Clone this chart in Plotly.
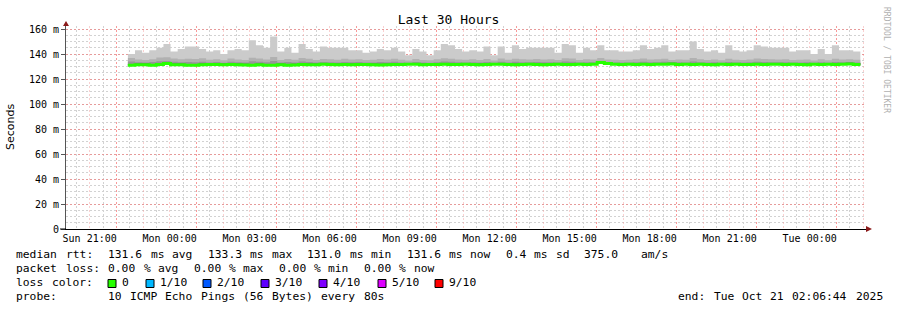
import re
import pandas as pd
import plotly.graph_objects as go

# ---------------- data ----------------
end_time = "2025-10-21 02:06:44"
span_hours = 30
data_start = "2025-10-19 22:26:00"
step_seconds = 960

ping_max = [
    140, 143, 141, 143, 145, 148, 142, 144, 146, 146,
    144, 142, 143, 140, 143, 144, 143, 151, 147, 145,
    154, 142, 145, 141, 148, 144, 142, 146, 145, 145,
    145, 143, 143, 141, 142, 144, 143, 145, 142, 139,
    144, 142, 139, 143, 148, 147, 144, 142, 143, 142,
    146, 139, 146, 141, 147, 144, 145, 145, 145, 145,
    141, 148, 147, 141, 145, 143, 147, 143, 143, 142,
    142, 143, 147, 144, 145, 147, 142, 143, 143, 150,
    144, 142, 143, 141, 147, 143, 142, 143, 147, 146,
    145, 145, 145, 142, 143, 143, 140, 144, 140, 147,
    143, 143, 142]

ping_p9 = [
    136.8, 135.6, 135.2, 135.8, 137.2, 137.4, 136.4, 135.8, 136.2, 136.0,
    136.6, 135.4, 135.8, 135.0, 136.4, 135.6, 135.2, 137.0, 136.4, 135.6,
    137.6, 135.2, 136.0, 135.4, 136.8, 136.2, 135.2, 136.0, 135.8, 135.4,
    136.2, 135.6, 135.8, 135.2, 135.4, 136.0, 135.6, 136.2, 135.4, 134.8,
    136.0, 135.2, 135.0, 135.8, 136.6, 136.2, 135.6, 135.4, 135.8, 135.2,
    136.0, 134.8, 136.4, 135.4, 136.2, 135.8, 135.6, 136.0, 135.6, 135.8,
    135.2, 136.6, 136.4, 135.2, 135.8, 135.6, 136.8, 135.6, 135.4, 135.2,
    135.4, 135.8, 136.4, 135.6, 135.8, 136.2, 135.2, 135.6, 135.4, 136.8,
    135.8, 135.2, 135.6, 135.0, 136.2, 135.4, 135.2, 135.6, 136.4, 136.0,
    135.8, 135.6, 135.8, 135.2, 135.4, 135.6, 134.8, 135.8, 135.0, 136.2,
    135.6, 135.8, 135.4]

ping_p8 = [
    134.0, 133.4, 133.2, 133.6, 134.2, 134.4, 133.8, 133.4, 133.6, 133.4,
    133.8, 133.2, 133.6, 133.0, 133.8, 133.4, 133.2, 134.2, 133.8, 133.4,
    134.4, 133.2, 133.6, 133.2, 134.0, 133.6, 133.2, 133.6, 133.4, 133.2,
    133.6, 133.4, 133.6, 133.2, 133.2, 133.6, 133.4, 133.8, 133.2, 133.0,
    133.6, 133.2, 133.0, 133.4, 134.0, 133.8, 133.4, 133.2, 133.4, 133.2,
    133.6, 133.0, 133.8, 133.2, 133.8, 133.4, 133.4, 133.6, 133.4, 133.4,
    133.2, 134.0, 133.8, 133.2, 133.4, 133.4, 134.4, 133.6, 133.2, 133.2,
    133.2, 133.4, 133.8, 133.4, 133.4, 133.8, 133.4, 133.4, 133.2, 134.0,
    133.4, 133.2, 133.4, 133.0, 133.6, 133.2, 133.2, 133.4, 133.8, 133.6,
    133.4, 133.4, 133.4, 133.2, 133.2, 133.4, 133.0, 133.4, 133.0, 133.6,
    133.4, 133.6, 133.2]

ping_p7 = [
    132.0, 132.4, 132.4, 132.0, 132.6, 133.4, 132.4, 132.4, 132.0, 132.0,
    132.4, 132.6, 132.6, 132.4, 132.6, 132.4, 132.2, 132.0, 132.4, 132.0,
    132.0, 132.4, 132.0, 132.2, 132.6, 132.4, 132.4, 132.8, 132.6, 132.4,
    132.6, 132.4, 132.6, 132.6, 132.4, 132.2, 132.4, 132.6, 132.6, 132.8,
    132.8, 132.4, 132.6, 132.6, 132.8, 132.6, 132.6, 132.8, 132.6, 132.4,
    132.6, 132.8, 132.8, 132.6, 132.4, 132.6, 132.8, 132.6, 132.4, 132.6,
    132.8, 132.6, 132.6, 132.8, 132.6, 132.8, 134.2, 133.4, 132.8, 132.6,
    132.8, 132.6, 132.8, 132.6, 132.8, 132.8, 133.0, 132.6, 132.8, 132.6,
    132.8, 132.6, 132.4, 132.8, 132.6, 132.8, 132.6, 132.6, 132.8, 132.6,
    132.8, 132.8, 132.6, 132.8, 132.6, 132.4, 132.8, 132.6, 132.8, 132.6,
    132.8, 133.0, 132.6]

ping_lo = [
    130.6, 130.9, 130.9, 130.6, 131.0, 131.6, 130.9, 130.9, 130.6, 130.6,
    130.9, 131.0, 131.0, 130.9, 131.0, 130.9, 130.7, 130.6, 130.9, 130.6,
    130.6, 130.9, 130.6, 130.7, 131.0, 130.9, 130.9, 131.2, 131.0, 130.9,
    131.0, 130.9, 131.0, 131.0, 130.9, 130.7, 130.9, 131.0, 131.0, 131.2,
    131.2, 130.9, 131.0, 131.0, 131.2, 131.0, 131.0, 131.2, 131.0, 130.9,
    131.0, 131.2, 131.2, 131.0, 130.9, 131.0, 131.2, 131.0, 130.9, 131.0,
    131.2, 131.0, 131.0, 131.2, 131.0, 131.2, 132.4, 131.7, 131.2, 131.0,
    131.2, 131.0, 131.2, 131.0, 131.2, 131.2, 131.4, 131.0, 131.2, 131.0,
    131.2, 131.0, 130.9, 131.2, 131.0, 131.2, 131.0, 131.0, 131.2, 131.0,
    131.2, 131.2, 131.0, 131.2, 131.0, 130.9, 131.2, 131.0, 131.2, 131.0,
    131.2, 131.4, 131.0]

median_rtt = [
    131.0, 131.4, 131.4, 131.0, 131.6, 132.4, 131.4, 131.4, 131.0, 131.0,
    131.4, 131.6, 131.6, 131.4, 131.6, 131.4, 131.2, 131.0, 131.4, 131.0,
    131.0, 131.4, 131.0, 131.2, 131.6, 131.4, 131.4, 131.8, 131.6, 131.4,
    131.6, 131.4, 131.6, 131.6, 131.4, 131.2, 131.4, 131.6, 131.6, 131.8,
    131.8, 131.4, 131.6, 131.6, 131.8, 131.6, 131.6, 131.8, 131.6, 131.4,
    131.6, 131.8, 131.8, 131.6, 131.4, 131.6, 131.8, 131.6, 131.4, 131.6,
    131.8, 131.6, 131.6, 131.8, 131.6, 131.8, 133.3, 132.4, 131.8, 131.6,
    131.8, 131.6, 131.8, 131.6, 131.8, 131.8, 132.0, 131.6, 131.8, 131.6,
    131.8, 131.6, 131.4, 131.8, 131.6, 131.8, 131.6, 131.6, 131.8, 131.6,
    131.8, 131.8, 131.6, 131.8, 131.6, 131.4, 131.8, 131.6, 131.8, 131.6,
    131.8, 132.0, 131.6]

y_tick_values = [0, 20, 40, 60, 80, 100, 120, 140, 160]
y_tick_labels = ["0", "20 m", "40 m", "60 m", "80 m", "100 m", "120 m", "140 m", "160 m"]

loss_labels = ["0", "1/10", "2/10", "3/10", "4/10", "5/10", "9/10"]
loss_colors = ["#26ff00", "#00b8ff", "#0059ff", "#5e00ff", "#7e00ff", "#dd00ff", "#ff0000"]

title_text = "Last 30 Hours"
y_title = "Seconds"
stats_line = "median rtt:  131.6 ms avg  133.3 ms max  131.0 ms min  131.6 ms now  0.4 ms sd  375.0   am/s"
loss_line = "packet loss: 0.00 % avg  0.00 % max  0.00 % min  0.00 % now"
color_head = "loss color:"
probe_line = "probe:       10 ICMP Echo Pings (56 Bytes) every 80s"
end_line = "end: Tue Oct 21 02:06:44 2025"
watermark = "RRDTOOL / TOBI OETIKER"

# ---------------- layout constants ----------------
W, H = 897, 310
ML, MR, MT, MB = 66, 31, 26, 81
PW, PH = W - ML - MR, H - MT - MB
PLOT_BOTTOM = H - MB
MONO = "DejaVu Sans Mono"
SANS = "DejaVu Sans"
CHAR_W = 7.1
LEG_SIZE = 11.3

MAJOR_GRID = "rgba(245,110,110,0.55)"
HOUR_GRID = "rgba(245,150,150,0.45)"
MINOR_GRID = "#d2d2d2"
DASH = "2px,2px"


def px(x):
    return (x - ML) / PW


def py(y):
    return (PLOT_BOTTOM - y) / PH


t_end = pd.Timestamp(end_time)
t_start = t_end - pd.Timedelta(hours=span_hours)
n = len(median_rtt)
times = pd.date_range(data_start, periods=n + 1, freq=f"{step_seconds}s")


def ext(a):
    return list(a) + [a[-1]]


fig = go.Figure()

# invisible trace to activate the overlay axis carrying the 3-hourly grid
fig.add_trace(go.Scatter(x=[t_start], y=[None], xaxis="x2", mode="lines",
                         hoverinfo="skip", showlegend=False))

bands = [(ping_lo, ping_max, "#cbcbcb"),
         (ping_lo, ping_p9, "#b1b1b1"),
         (ping_lo, ping_p8, "#969696"),
         (ping_lo, ping_p7, "#5a5a5a")]
for lo, hi, col in bands:
    fig.add_trace(go.Scatter(x=times, y=ext(lo), mode="lines", line=dict(width=0, shape="hv"),
                             hoverinfo="skip", showlegend=False))
    fig.add_trace(go.Scatter(x=times, y=ext(hi), mode="lines", line=dict(width=0, shape="hv"),
                             fill="tonexty", fillcolor=col, hoverinfo="skip", showlegend=False))

fig.add_trace(go.Scatter(x=times, y=ext(median_rtt), mode="lines",
                         line=dict(width=3, shape="hv", color=loss_colors[0]),
                         hoverinfo="skip", showlegend=False))

fig.update_layout(
    width=W, height=H, margin=dict(l=ML, r=MR, t=MT, b=MB, pad=0, autoexpand=False),
    paper_bgcolor="white", plot_bgcolor="white",
    title=dict(text=title_text, x=0.5, xanchor="center", y=1 - 19 / H, yanchor="middle",
               font=dict(family=MONO, size=13, color="#000")),
    xaxis=dict(type="date", range=[t_start, t_end], tick0="2025-10-19 21:00:00",
               dtick=3600000, ticklabelstep=3, tickformat="%a %H:%M", automargin=False,
               tickfont=dict(family=MONO, size=10, color="#000"),
               showgrid=True, gridcolor=HOUR_GRID, griddash=DASH, gridwidth=1,
               minor=dict(dtick=1800000, showgrid=True, gridcolor=MINOR_GRID,
                          griddash=DASH, gridwidth=1),
               showline=True, linecolor="#000", linewidth=1, ticks="", zeroline=False),
    xaxis2=dict(type="date", range=[t_start, t_end], overlaying="x", side="bottom",
                tick0="2025-10-19 22:00:00", dtick=3 * 3600000, automargin=False,
                showgrid=True, gridcolor=MAJOR_GRID, griddash=DASH, gridwidth=1,
                showticklabels=False, showline=False, ticks="", zeroline=False),
    yaxis=dict(range=[0, 162.5], tickvals=y_tick_values, ticktext=y_tick_labels,
               automargin=False,
               tickfont=dict(family=MONO, size=10, color="#000"),
               showgrid=True, gridcolor=MAJOR_GRID, griddash=DASH, gridwidth=1,
               minor=dict(dtick=5, tick0=0, showgrid=True, gridcolor=MINOR_GRID,
                          griddash=DASH, gridwidth=1),
               showline=True, linecolor="#555", linewidth=1,
               ticks="outside", ticklen=4, tickcolor="#555", zeroline=False),
)

# y-axis title
fig.add_annotation(text=y_title, xref="paper", yref="paper", x=px(11), y=py(127),
                   xanchor="center", yanchor="middle", textangle=-90, showarrow=False,
                   font=dict(family=SANS, size=11, color="#000"))

# axis arrows
fig.add_shape(type="path", xref="paper", yref="paper", xsizemode="pixel", ysizemode="pixel",
              xanchor=0, yanchor=1, path="M -3 0 L 3 0 L 0 5 Z",
              fillcolor="#8b1a1a", line=dict(width=0))
fig.add_shape(type="path", xref="paper", yref="paper", xsizemode="pixel", ysizemode="pixel",
              xanchor=1, yanchor=0, path="M 0 -3 L 0 3 L 6 0 Z",
              fillcolor="#8b1a1a", line=dict(width=0))
fig.add_shape(type="line", xref="paper", yref="paper", x0=px(60), x1=0, y0=0, y1=0,
              line=dict(color="#000", width=1))


def add_text(s, x, yc, size=LEG_SIZE):
    fig.add_annotation(text=s, xref="paper", yref="paper", x=px(x), y=py(yc),
                       xanchor="left", yanchor="middle", showarrow=False,
                       borderpad=0, borderwidth=0,
                       font=dict(family=MONO, size=size, color="#000"))


def add_words(text, x0, yc):
    for m in re.finditer(r"\S+", text):
        add_text(m.group(0), x0 + m.start() * CHAR_W, yc)


add_words(stats_line, 16, 254)
add_words(loss_line, 16, 268)
add_words(color_head, 16, 282)
add_words(probe_line, 16, 296)
add_words(end_line, 678, 296)

box_x = [108, 146, 203, 261, 319, 378, 435]
for bx, lab, col in zip(box_x, loss_labels, loss_colors):
    fig.add_shape(type="rect", xref="paper", yref="paper", x0=px(bx), x1=px(bx + 8),
                  y0=py(287.5), y1=py(279.5), fillcolor=col, line=dict(color="#000", width=1))
    add_text(lab, bx + 14, 282)

fig.add_annotation(text=watermark, xref="paper", yref="paper", x=px(887), y=py(60),
                   xanchor="center", yanchor="middle", textangle=90, showarrow=False,
                   font=dict(family=MONO, size=8, color="#b0b0b0"))

fig.write_html("out.html")
